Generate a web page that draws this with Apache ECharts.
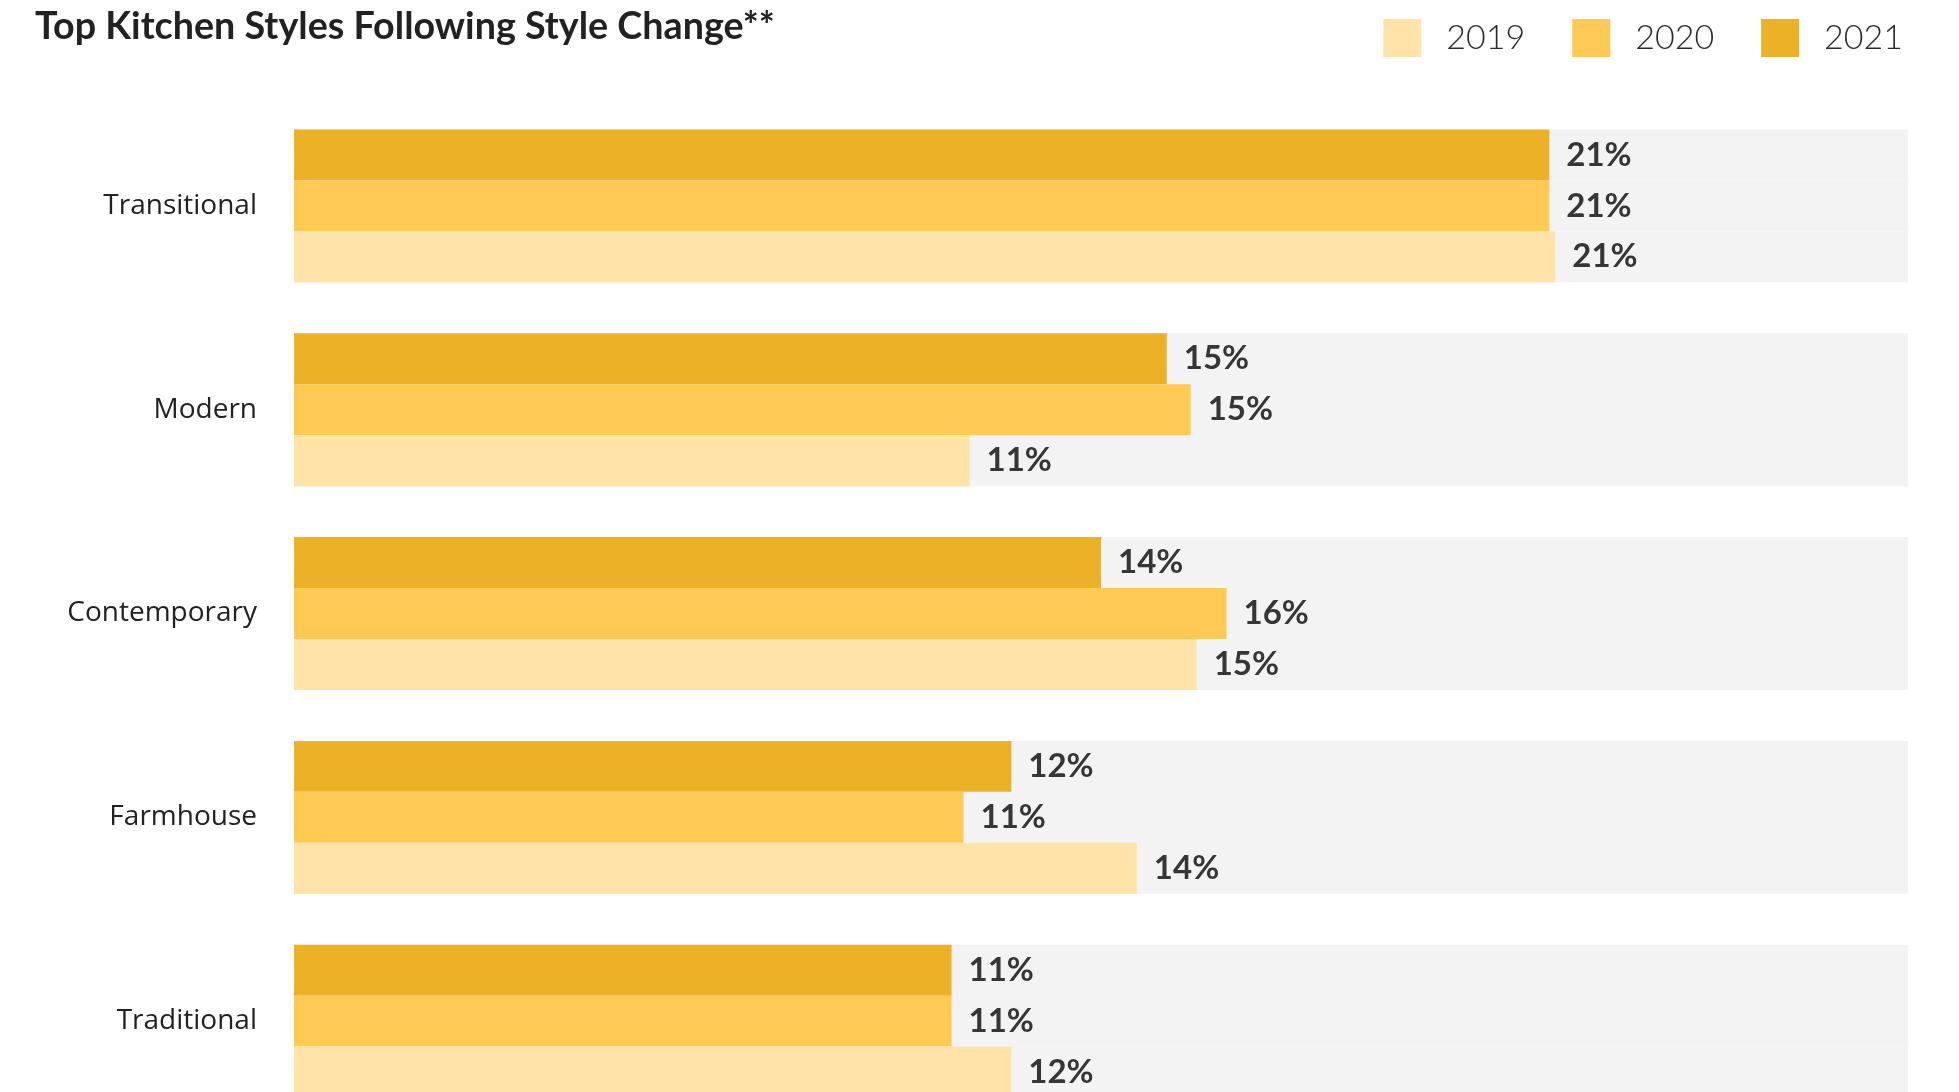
<!DOCTYPE html>
<html>
<head>
<meta charset="utf-8">
<title>Top Kitchen Styles Following Style Change</title>
<script src="https://cdn.jsdelivr.net/npm/echarts@6/dist/echarts.min.js"></script>
<style>
  html, body { margin: 0; padding: 0; background: #fff; overflow: hidden; }
  /* taller than the window: the last group is cut off at the bottom edge, like the source */
  #chart { width: 1959px; height: 1130px; }
</style>
</head>
<body>
<div id="chart"></div>
<script>
// categories, top to bottom
const styles = ['Transitional', 'Modern', 'Contemporary', 'Farmhouse', 'Traditional'];
const years = ['2019', '2020', '2021'];

// share of renovating homeowners (%)
const values2019 = [21.1, 11.3, 15.1, 14.1, 12.0];
const values2020 = [21.0, 15.0, 15.6, 11.2, 11.0];
const values2021 = [21.0, 14.6, 13.5, 12.0, 11.0];

const colors = { '2019': '#FFE3A9', '2020': '#FECA53', '2021': '#EBB127' };

const chart = echarts.init(document.getElementById('chart'));

function makeSeries(name, data) {
    return {
        name: name,
        type: 'bar',
        data: data,
        barGap: '0%',
        barCategoryGap: '25%',
        itemStyle: { color: colors[name] },
        showBackground: true,
        backgroundStyle: { color: '#F3F3F3' },
        label: {
            show: true,
            position: 'right',
            distance: 17,
            fontFamily: 'Lato',
            fontWeight: 'bold',
            fontSize: 33,
            color: '#363636',
            formatter: p => Math.round(p.value) + '%'
        },
        emphasis: { disabled: true }
    };
}

const option = {
    animation: false,
    title: {
        text: 'Top Kitchen Styles Following Style Change**',
        left: 30,
        top: 3,
        textStyle: {
            fontFamily: 'Lato',
            fontWeight: 'bold',
            fontSize: 37.7,
            color: '#222'
        }
    },
    legend: {
        data: years,
        right: 56,
        top: 19,
        padding: 0,
        icon: 'rect',
        itemWidth: 38,
        itemHeight: 38,
        itemGap: 47,
        textStyle: {
            fontFamily: 'Lato',
            fontWeight: 300,
            fontSize: 34,
            color: '#2a2a2a',
            padding: [4, 0, 0, 20]
        }
    },
    grid: {
        left: 294,
        right: 51,
        top: 104,
        height: 1019
    },
    xAxis: {
        type: 'value',
        min: 0,
        max: 27,
        show: false,
        splitLine: { show: false }
    },
    yAxis: {
        type: 'category',
        data: styles,
        inverse: true,
        axisLine: { show: false },
        axisTick: { show: false },
        axisLabel: {
            margin: 37,
            fontFamily: 'Open Sans',
            fontSize: 28,
            color: '#222'
        }
    },
    series: [
        makeSeries('2021', values2021),
        makeSeries('2020', values2020),
        makeSeries('2019', values2019)
    ]
};

chart.setOption(option);
</script>
</body>
</html>
